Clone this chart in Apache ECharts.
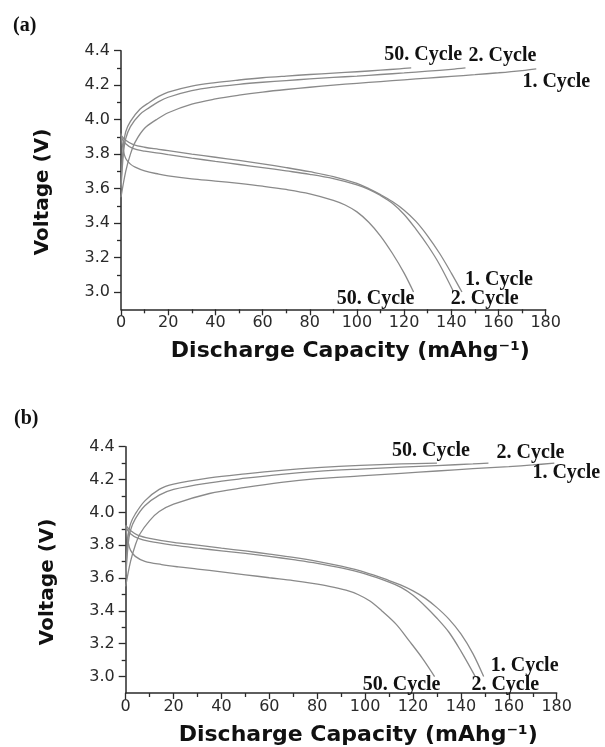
<!DOCTYPE html>
<html>
<head>
<meta charset="utf-8">
<script src="https://cdn.jsdelivr.net/npm/echarts@6/dist/echarts.min.js"></script>
<style>html,body{margin:0;padding:0;background:#fff;}#chart{width:605px;height:747px;}</style>
</head>
<body>
<div id="chart"></div>
<script>
// ---- tick labels ----
const capacityTicks = [0, 20, 40, 60, 80, 100, 120, 140, 160, 180];
const voltageTicks = [3.0, 3.2, 3.4, 3.6, 3.8, 4.0, 4.2, 4.4];
const voltageMinorTicks = [3.1, 3.3, 3.5, 3.7, 3.9, 4.1, 4.3];
const panelNames = ['(a)', '(b)'];
const cycleLabels = ['1. Cycle', '2. Cycle', '50. Cycle'];

// ---- panel (a) : [capacity mAh/g, voltage V] ----
const aCharge1 = [[0,3.55],[2,3.70],[4,3.80],[6,3.87],[10,3.95],[15,4.00],[20,4.04],[30,4.09],[40,4.12],[50,4.142],[60,4.16],[70,4.175],[80,4.188],[90,4.20],[100,4.211],[110,4.221],[120,4.231],[130,4.241],[140,4.251],[150,4.261],[160,4.272],[170,4.285],[176,4.295]];
const aCharge2 = [[0,3.60],[1,3.80],[2,3.89],[4,3.96],[8,4.03],[12,4.07],[16,4.105],[20,4.13],[30,4.168],[40,4.19],[50,4.205],[60,4.217],[70,4.227],[80,4.236],[90,4.245],[100,4.253],[110,4.262],[120,4.271],[130,4.281],[140,4.292],[146,4.30]];
const aCharge50 = [[0,3.62],[1,3.85],[2,3.93],[4,3.99],[8,4.06],[12,4.10],[16,4.135],[20,4.16],[30,4.195],[40,4.215],[50,4.23],[60,4.243],[70,4.253],[80,4.262],[90,4.27],[100,4.278],[110,4.287],[118,4.295],[123,4.30]];
const aDischarge1 = [[0,3.91],[2,3.88],[5,3.857],[10,3.84],[16,3.828],[20,3.82],[30,3.80],[40,3.782],[50,3.764],[60,3.744],[70,3.722],[80,3.698],[90,3.67],[100,3.63],[105,3.60],[110,3.565],[115,3.525],[120,3.475],[125,3.41],[130,3.325],[135,3.225],[140,3.11],[144.5,3.0]];
const aDischarge2 = [[0,3.90],[2,3.86],[5,3.833],[10,3.817],[16,3.806],[20,3.797],[30,3.777],[40,3.758],[50,3.74],[60,3.722],[70,3.703],[80,3.683],[90,3.658],[100,3.622],[105,3.596],[110,3.56],[115,3.515],[120,3.45],[125,3.365],[130,3.27],[135,3.16],[141,3.0]];
const aDischarge50 = [[0,3.92],[1,3.82],[2,3.775],[4,3.742],[6,3.725],[10,3.703],[16,3.684],[20,3.674],[30,3.657],[40,3.644],[50,3.63],[60,3.614],[70,3.595],[80,3.57],[90,3.532],[95,3.505],[100,3.465],[105,3.405],[110,3.325],[115,3.225],[120,3.11],[124,3.0]];

// ---- panel (b) ----
const bCharge1 = [[0,3.55],[2,3.70],[4,3.80],[6,3.87],[10,3.95],[14,4.005],[20,4.05],[35,4.115],[50,4.152],[65,4.183],[80,4.205],[98,4.222],[115,4.238],[130,4.252],[145,4.266],[160,4.279],[170,4.289],[179,4.30]];
const bCharge2 = [[0,3.60],[1,3.80],[2,3.89],[4,3.96],[8,4.04],[14,4.105],[20,4.14],[35,4.18],[50,4.208],[65,4.232],[80,4.25],[98,4.264],[115,4.275],[130,4.285],[145,4.295],[151.5,4.30]];
const bCharge50 = [[0,3.62],[1,3.85],[2,3.93],[4,3.99],[8,4.07],[14,4.14],[20,4.172],[35,4.21],[50,4.235],[65,4.256],[80,4.272],[98,4.286],[115,4.295],[130,4.30]];
const bDischarge1 = [[0,3.92],[2,3.89],[5,3.862],[10,3.842],[20,3.817],[30,3.80],[40,3.782],[50,3.765],[60,3.746],[70,3.726],[80,3.702],[90,3.672],[100,3.635],[110,3.585],[115,3.557],[120,3.522],[125,3.478],[130,3.42],[135,3.35],[140,3.26],[145,3.14],[149.5,3.0]];
const bDischarge2 = [[0,3.91],[2,3.87],[5,3.843],[10,3.823],[20,3.80],[30,3.782],[40,3.766],[50,3.75],[60,3.732],[70,3.712],[80,3.69],[90,3.662],[100,3.625],[110,3.575],[115,3.543],[120,3.495],[125,3.43],[130,3.355],[135,3.27],[140,3.155],[146,3.0]];
const bDischarge50 = [[0,3.92],[1,3.82],[2,3.77],[4,3.732],[8,3.702],[15,3.682],[22,3.668],[30,3.655],[40,3.638],[50,3.62],[60,3.602],[70,3.585],[78,3.568],[85,3.55],[92,3.526],[97,3.50],[102,3.46],[107,3.40],[113,3.318],[118,3.225],[124,3.11],[129,3.0]];

const LINE = '#8a8a8a';
const AXIS = '#2a2a2a';
const TICKTXT = '#2a2a2a';

function curve(data, gi, label, offset) {
  return {
    type: 'line', xAxisIndex: gi, yAxisIndex: gi * 2, data: data,
    showSymbol: false, symbol: 'none', smooth: 0.35,
    lineStyle: { color: LINE, width: 1.3 }, silent: true, animation: false,
    markPoint: {
      symbol: 'circle', symbolSize: 0, itemStyle: { color: 'rgba(0,0,0,0)' },
      data: [{ coord: data[data.length - 1] }],
      label: {
        show: true, formatter: label, position: 'inside', offset: offset,
        fontFamily: 'Liberation Serif', fontWeight: 'bold', fontSize: 20, color: '#111'
      }
    }
  };
}

function xAxis(gi) {
  return {
    type: 'value', gridIndex: gi, min: 0, max: 180, interval: 20,
    name: 'Discharge Capacity (mAhg⁻¹)', nameLocation: 'middle', nameGap: 31,
    nameTextStyle: { fontFamily: 'DejaVu Sans', fontWeight: 'bold', fontSize: 22, color: '#111', padding: [0, 0, 0, 34] },
    axisLine: { show: true, lineStyle: { color: AXIS, width: 1.5 } },
    axisTick: { show: true, length: 6, lineStyle: { color: AXIS, width: 1.3 } },
    minorTick: { show: true, splitNumber: 2, length: 4, lineStyle: { color: AXIS, width: 1.3 } },
    splitLine: { show: false },
    axisLabel: { margin: 6, fontFamily: 'DejaVu Sans', fontSize: 16, color: TICKTXT,
      customValues: capacityTicks, formatter: v => String(v) }
  };
}

function yAxes(gi) {
  return [{
    type: 'value', gridIndex: gi, min: 2.9, max: 4.4, interval: 0.1, position: 'left',
    name: 'Voltage (V)', nameLocation: 'middle', nameGap: 68, nameRotate: 90,
    nameTextStyle: { fontFamily: 'DejaVu Sans', fontWeight: 'bold', fontSize: 20, color: '#111', padding: [0, 24, 0, 0] },
    axisLine: { show: true, lineStyle: { color: AXIS, width: 1.5 } },
    axisTick: { show: true, length: 7, customValues: voltageTicks, lineStyle: { color: AXIS, width: 1.3 } },
    splitLine: { show: false },
    axisLabel: { margin: 11, fontFamily: 'DejaVu Sans', fontSize: 16, color: TICKTXT,
      customValues: voltageTicks, formatter: v => v.toFixed(1) }
  }, {
    type: 'value', gridIndex: gi, min: 2.9, max: 4.4, interval: 0.1, position: 'left',
    axisLine: { show: false },
    axisTick: { show: true, length: 4, customValues: voltageMinorTicks, lineStyle: { color: AXIS, width: 1.3 } },
    axisLabel: { show: false, customValues: voltageMinorTicks },
    splitLine: { show: false }
  }];
}

const chart = echarts.init(document.getElementById('chart'), null, { renderer: 'canvas' });
chart.setOption({
  animation: false,
  backgroundColor: '#fff',
  title: [
    { text: panelNames[0], left: 8, top: 11, padding: 5, textStyle: { fontFamily: 'Liberation Serif', fontWeight: 'bold', fontSize: 20, color: '#111' } },
    { text: panelNames[1], left: 9, top: 404, padding: 5, textStyle: { fontFamily: 'Liberation Serif', fontWeight: 'bold', fontSize: 20, color: '#111' } }
  ],
  grid: [
    { left: 121, top: 50.7, width: 424.7, height: 258.6 },
    { left: 125.7, top: 446.7, width: 431, height: 249.3 }
  ],
  xAxis: [xAxis(0), xAxis(1)],
  yAxis: [...yAxes(0), ...yAxes(1)],
  series: [
    curve(aCharge1, 0, cycleLabels[0], [20, 13]),
    curve(aCharge2, 0, cycleLabels[1], [37, -12]),
    curve(aCharge50, 0, cycleLabels[2], [12, -13]),
    curve(aDischarge1, 0, cycleLabels[0], [37, -12]),
    curve(aDischarge2, 0, cycleLabels[1], [31, 7]),
    curve(aDischarge50, 0, cycleLabels[2], [-38, 7]),
    curve(bCharge1, 1, cycleLabels[0], [12, 10]),
    curve(bCharge2, 1, cycleLabels[1], [42, -10]),
    curve(bCharge50, 1, cycleLabels[2], [-6, -12]),
    curve(bDischarge1, 1, cycleLabels[0], [41, -11]),
    curve(bDischarge2, 1, cycleLabels[1], [30, 8]),
    curve(bDischarge50, 1, cycleLabels[2], [-33, 8])
  ]
});
</script>
</body>
</html>
